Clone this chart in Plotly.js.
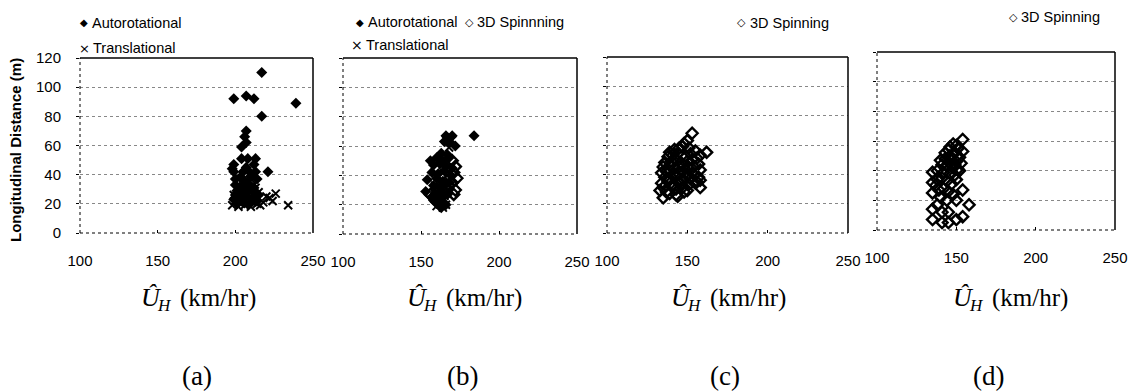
<!DOCTYPE html>
<html>
<head>
<meta charset="utf-8">
<script src="https://cdn.plot.ly/plotly-3.0.1.min.js"></script>
<style>
  html, body { margin: 0; padding: 0; background: #fff; }
  #chart { width: 1134px; height: 392px; }
</style>
</head>
<body>
<div id="chart"></div>
<script>
// ---- Panel (a): autorotational and translational debris ----
const aAutoX = [217,199,207,212,239,217,207,206,207,204,204,208,213,199,199,205,209,213,221,200,203,206,210,214,200,204,208,212,201,205,209,213,200,203,207,211,215,199,202,206,210,214,201,205,209,198,212,207];
const aAutoY = [110,92,94,92,89,80,70,66,62,59,51,51,51,47,42,42,42,42,42,37,38,36,39,37,33,32,34,31,29,28,30,27,26,25,27,24,26,23,22,24,21,22,20,21,20,44,47,45];
const aTransX = [198,200,202,204,206,208,210,212,214,216,199,203,207,211,215,201,205,209,213,208,210,206,212,220,224,226,234,218,222,202,211,214];
const aTransY = [19,22,18,21,19,20,18,22,20,19,26,25,27,24,28,30,32,29,31,35,37,34,33,25,22,27,19,21,24,23,21,25];

// ---- Panel (b): autorotational, 3D spinning and translational ----
const bAutoX = [166,170,184,168,165,172,163,167,160,164,158,162,166,170,157,161,165,169,154,160,164,168,158,162,166,153,159,163,167,157,161,165,160,164,162,166,158,163,156,168];
const bAutoY = [67,67,67,62,63,60,55,54,52,50,47,48,46,45,42,41,43,40,37,38,36,35,33,32,34,29,28,30,27,25,24,26,22,21,19,20,23,18,50,52];
const bSpinX = [170,172,171,173,170,172,156,158,160,171,168,163];
const bSpinY = [50,46,42,38,35,30,27,25,22,27,33,40];
const bTransX = [160,162,164,166,163,161,165,167,159,168,166,170,168,164];
const bTransY = [19,21,18,20,24,28,26,30,33,36,64,64,59,47];

// ---- Panel (c): 3D spinning ----
const cSpinX = [153,148,150,139,162,158,145,142,147,151,155,138,141,144,149,152,156,136,140,143,146,150,153,157,135,139,142,145,148,151,154,158,134,137,141,144,147,150,153,157,136,139,143,146,149,152,156,134,138,141,145,148,151,155,135,140,143,147,150,158,133,137,143,148,158,135,139,144];
const cSpinY = [68,61,63,55,55,53,58,57,59,58,56,52,53,54,52,54,51,48,49,50,48,49,50,47,45,46,44,45,46,44,45,43,41,42,40,41,42,40,41,38,38,37,39,36,38,37,35,34,35,33,34,36,33,34,31,32,30,31,29,31,29,28,26,28,36,24,27,25];

// ---- Panel (d): 3D spinning ----
const dSpinX = [154,150,154,145,148,151,146,149,152,143,147,150,153,141,144,148,151,135,138,142,146,149,152,135,138,141,144,147,150,135,139,142,145,154,148,150,158,135,141,145,138,135,141,145,150,154,140,144,137,147,143,146,149,140];
const dSpinY = [61,57,53,54,58,55,50,52,49,48,47,46,45,44,43,42,41,39,40,39,38,37,40,32,34,35,33,31,34,25,27,28,26,27,24,20,17,14,12,12,17,7,5,5,7,9,22,20,30,44,52,56,44,47];

// ---- Axis ticks and labels ----
const xTicks = [100, 150, 200, 250];
const yTicks = [0, 20, 40, 60, 80, 100, 120];
const panelLabels = ['(a)', '(b)', '(c)', '(d)'];
const yTitle = 'Longitudinal Distance (m)';
// x title pieces: Û with subscript H, then the unit
const xSymbol = 'Û';
const xSub = 'H';
const xUnit = '(km/hr)';

// ---- Layout helpers (page pixels -> paper fractions) ----
const W = 1134, H = 392;
const fx = v => v / W;
const fy = v => 1 - v / H;

const SANS = 'Arial, "Liberation Sans", sans-serif';
const SERIF = '"Times New Roman", "Liberation Serif", serif';

const autoMarker = { symbol: 'diamond', size: 8.5, color: '#000' };
const spinMarker = { symbol: 'diamond-open', size: 8.5, color: '#000', line: { width: 2.4, color: '#000' } };
const transMarker = { symbol: 'x-thin-open', size: 8, color: '#000', line: { width: 2, color: '#000' } };

function pts(x, y, marker, xa, ya) {
  return { type: 'scatter', mode: 'markers', x: x, y: y, marker: marker,
           xaxis: xa, yaxis: ya, hoverinfo: 'skip', cliponaxis: false };
}

const data = [
  pts(aAutoX, aAutoY, autoMarker, 'x', 'y'),
  pts(aTransX, aTransY, transMarker, 'x', 'y'),
  pts(bAutoX, bAutoY, autoMarker, 'x2', 'y2'),
  pts(bSpinX, bSpinY, spinMarker, 'x2', 'y2'),
  pts(bTransX, bTransY, transMarker, 'x2', 'y2'),
  pts(cSpinX, cSpinY, spinMarker, 'x3', 'y3'),
  pts(dSpinX, dSpinY, spinMarker, 'x4', 'y4')
];

// panel boxes in page pixels: [left, right, top, bottom]
const boxes = [
  [80, 313, 58, 233],
  [343, 577, 58, 234],
  [607, 848, 57, 233],
  [877, 1115, 52, 230]
];

function xAxis(i) {
  const b = boxes[i];
  return {
    domain: [fx(b[0]), fx(b[1])], anchor: i === 0 ? 'y' : 'y' + (i + 1),
    range: [100, 250], tickvals: xTicks, ticktext: xTicks.map(String),
    ticks: 'inside', ticklen: 3, tickcolor: '#000',
    showgrid: false, zeroline: false, showline: false,
    tickfont: { family: SANS, size: 15, color: '#000' },
    ticklabelstandoff: 17, fixedrange: true
  };
}
function yAxis(i) {
  const b = boxes[i];
  return {
    domain: [fy(b[3]), fy(b[2])], anchor: i === 0 ? 'x' : 'x' + (i + 1),
    range: [0, 120], tickvals: yTicks, ticktext: yTicks.map(String),
    ticks: 'outside', ticklen: 3, tickcolor: '#000',
    showticklabels: i === 0,
    showgrid: true, gridcolor: '#888', griddash: 'dot', gridwidth: 1,
    zeroline: false, showline: false,
    tickfont: { family: SANS, size: 15, color: '#000' },
    ticklabelstandoff: 12, fixedrange: true
  };
}

// frame: solid top/right, dotted left/bottom
const shapes = [];
boxes.forEach((b, i) => {
  const xr = (i === 0 ? 'x' : 'x' + (i + 1)) + ' domain';
  const yr = (i === 0 ? 'y' : 'y' + (i + 1)) + ' domain';
  const seg = (x0, y0, x1, y1, w, dash) => shapes.push({
    type: 'line', xref: xr, yref: yr, x0: x0, y0: y0, x1: x1, y1: y1,
    line: { color: '#000', width: w, dash: dash }, layer: 'above'
  });
  seg(0, 1, 1, 1, 1.5, 'solid');
  seg(1, 0, 1, 1, 1.5, 'solid');
  seg(0, 0, 0, 1, 1, 'dot');
  seg(0, 0, 1, 0, 1, 'dot');
});

const annotations = [];
function note(text, x, y, opts) {
  annotations.push(Object.assign({
    text: text, xref: 'paper', yref: 'paper', x: fx(x), y: fy(y),
    xanchor: 'left', yanchor: 'middle', showarrow: false,
    font: { family: SANS, size: 14.5, color: '#000' }
  }, opts || {}));
}
// legend key glyph, centred on its own position
function key(glyph, x, y, size) {
  note(glyph, x, y, { xanchor: 'center',
    font: { family: '"DejaVu Sans", sans-serif', size: size, color: '#000' } });
}

// legends
key('◆', 84, 23, 10);  note('Autorotational', 90, 23);
key('×', 84, 48, 13);  note('Translational', 91, 48);
key('◆', 360, 22, 10); note('Autorotational', 366, 22);
key('◇', 469, 22, 11); note('3D Spinnning', 475, 22);
key('×', 357, 45, 14); note('Translational', 364, 45);
key('◇', 741, 23, 11); note('3D Spinning', 748, 23);
key('◇', 1013, 17, 11); note('3D Spinning', 1019, 17);

// y axis title
note('<b>' + yTitle + '</b>', 15, 150, { xanchor: 'center', textangle: -90,
  font: { family: SANS, size: 15, color: '#000' } });

// x axis titles (Û, subscript H, unit) and panel labels
const titleCenters = [202, 468, 732, 1014];
const labelCenters = [197, 462, 725, 988];
titleCenters.forEach(c => {
  note('<i>' + xSymbol + '</i>', c - 51, 297, { xanchor: 'center',
    font: { family: SERIF, size: 26, color: '#000' } });
  note('<i>' + xSub + '</i>', c - 38, 305, { xanchor: 'center',
    font: { family: SERIF, size: 17, color: '#000' } });
  note(xUnit, c - 24, 298, { xanchor: 'left',
    font: { family: SERIF, size: 25, color: '#000' } });
});
labelCenters.forEach((c, i) => note(panelLabels[i], c, 376, { xanchor: 'center',
  font: { family: SERIF, size: 27, color: '#000' } }));

const layout = {
  width: W, height: H,
  margin: { l: 0, r: 0, t: 0, b: 0 },
  paper_bgcolor: '#fff', plot_bgcolor: '#fff',
  showlegend: false, hovermode: false,
  shapes: shapes, annotations: annotations
};
for (let i = 0; i < 4; i++) {
  const k = i === 0 ? '' : String(i + 1);
  layout['xaxis' + k] = xAxis(i);
  layout['yaxis' + k] = yAxis(i);
}

Plotly.newPlot('chart', data, layout, { staticPlot: true, displayModeBar: false });
</script>
</body>
</html>
